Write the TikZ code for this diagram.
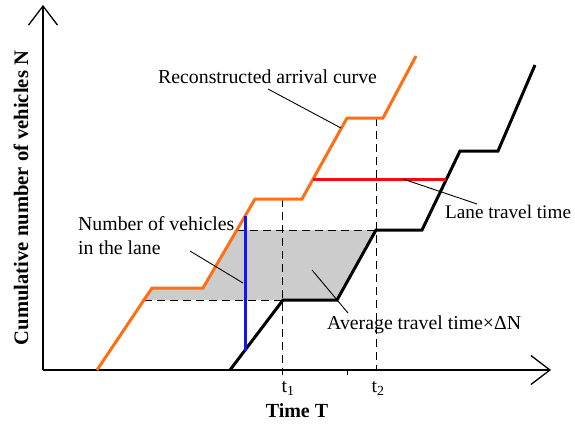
\documentclass[tikz,border=0pt]{standalone}
\usepackage{fontspec}
\setmainfont{Liberation Serif}
\usepackage{tikz}
\usetikzlibrary{arrows.meta}
\usepackage{xcolor}
\definecolor{arrivalorange}{RGB}{255,110,20}
\definecolor{lanered}{RGB}{250,10,10}
\definecolor{laneblue}{RGB}{20,20,245}

\begin{document}
\begin{tikzpicture}[
    x=1pt,y=-1pt,font=\fontsize{19.8}{24}\selectfont,
    axis/.style={line width=1.3pt,-{Straight Barb[length=19pt,width=29pt,line width=1.3pt]}},
    curve/.style={line width=3pt},
    helper/.style={dash pattern=on 8pt off 5pt,line width=1pt},
    leader/.style={line width=0.9pt},
    label/.style={inner sep=0pt,anchor=base west}
]
\useasboundingbox (0,0) rectangle (575,423);
% Points of the two cumulative curves.
\coordinate (o) at (43,370);
\coordinate (a0) at (97,370);  \coordinate (a1) at (152,288);
\coordinate (a2) at (203,288); \coordinate (a3) at (255,199);
\coordinate (a4) at (302,199); \coordinate (a5) at (347,118);
\coordinate (a6) at (383,118); \coordinate (a7) at (416,56);
\coordinate (d0) at (230,370); \coordinate (d1) at (283,300);
\coordinate (d2) at (337,300); \coordinate (d3) at (376,230);
\coordinate (d4) at (422,230); \coordinate (d5) at (460,151);
\coordinate (d6) at (498,151); \coordinate (d7) at (535,65);
% Shaded area between the curves.
\fill[black!20] (144,300) -- (a1) -- (a2) -- (237,230) -- (d3) -- (d2) -- cycle;
% Dashed guides.
\draw[helper] (144,300) -- (d1);
\draw[helper] (237,230) -- (d3);
\draw[helper] (282,199) -- (282,370);
\draw[helper] (376,118) -- (376,370);
% Axes.
\draw[axis] (o) -- (551,370);
\draw[axis] (o) -- (43,5);
\draw[line width=1pt] (282,370) -- (282,375) (347,370) -- (347,375);
% Arrival and departure curves.
\draw[curve,arrivalorange] (a0) -- (a1) -- (a2) -- (a3) -- (a4) -- (a5) -- (a6) -- (a7);
\draw[curve,black] (d0) -- (d1) -- (d2) -- (d3) -- (d4) -- (d5) -- (d6) -- (d7);
% Lane travel time and number of vehicles.
\draw[curve,lanered] (313,179) coordinate (redL) -- (446,179) coordinate (redR);
\draw[curve,laneblue] (245,216) coordinate (blueT) -- (245,351) coordinate (blueB);
% Labels.
\node[label] (arrlabel) at (158,83) {Reconstructed arrival curve};
\node[label,font=\fontsize{19.2}{24}\selectfont] (lanelabel) at (445,218) {Lane travel time};
\node[label,align=left,anchor=north west] (numlabel) at (78,216.5) {Number of vehicles\\in the lane};
\node[label] (avglabel) at (327,329) {Average travel time×ΔN};
\node[inner sep=0pt,anchor=base] (t1label) at (288,392) {t\textsubscript{1}};
\node[inner sep=0pt,anchor=base] (t2label) at (378,392) {t\textsubscript{2}};
\node[inner sep=0pt,anchor=base,font=\fontsize{20}{24}\selectfont\bfseries] (xlabel) at (297,417) {Time T};
\node[inner sep=0pt,anchor=base,rotate=90,font=\fontsize{20.6}{24}\selectfont\bfseries] (ylabel) at (28,198) {Cumulative number of vehicles N};
% Leader lines.
\coordinate (arrA) at (268,89);  \coordinate (arrB) at (341,128);
\coordinate (laneA) at (403,179); \coordinate (laneB) at (477,204);
\coordinate (numA) at (190,251); \coordinate (numB) at (243,283);
\coordinate (avgA) at (312,270); \coordinate (avgB) at (348,313);
\draw[leader] (arrA) -- (arrB);
\draw[leader] (laneA) -- (laneB);
\draw[leader] (numA) -- (numB);
\draw[leader] (avgA) -- (avgB);
\end{tikzpicture}
\end{document}
